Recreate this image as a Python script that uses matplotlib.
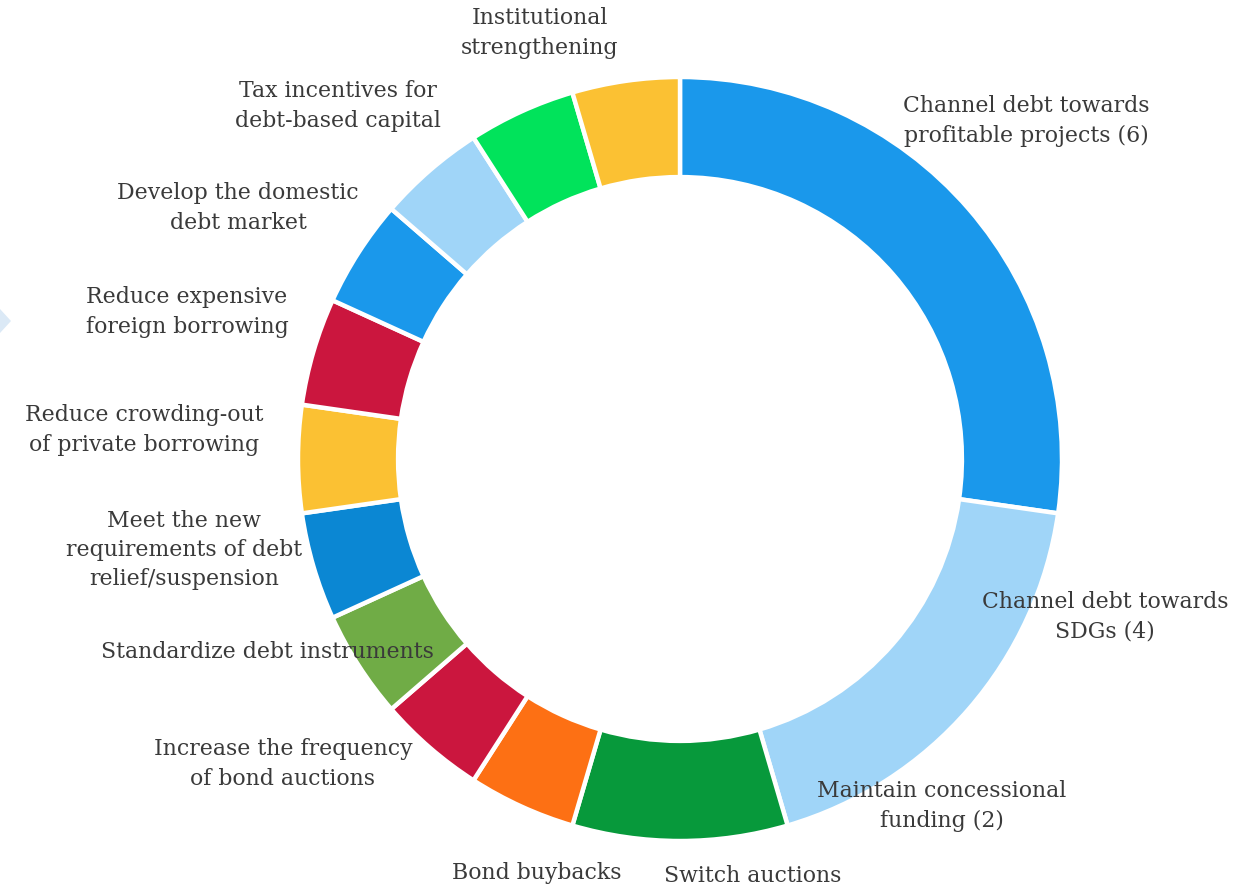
import matplotlib
matplotlib.use("Agg")
import matplotlib.pyplot as plt
from matplotlib.patches import Polygon

# Policy measures and how often each was cited
categories = [
    "Channel debt towards\nprofitable projects (6)",
    "Channel debt towards\nSDGs (4)",
    "Maintain concessional\nfunding (2)",
    "Switch auctions",
    "Bond buybacks",
    "Increase the frequency\nof bond auctions",
    "Standardize debt instruments",
    "Meet the new\nrequirements of debt\nrelief/suspension",
    "Reduce crowding-out\nof private borrowing",
    "Reduce expensive\nforeign borrowing",
    "Develop the domestic\ndebt market",
    "Tax incentives for\ndebt-based capital",
    "Institutional\nstrengthening",
]
counts = [6, 4, 2, 1, 1, 1, 1, 1, 1, 1, 1, 1, 1]

colors = [
    "#1a98eb", "#a0d5f8", "#07993b", "#fd7014", "#cb163e", "#70ac46",
    "#0b87d3", "#fbc133", "#cb163e", "#1a98eb", "#a0d5f8", "#01e35b", "#fbc133",
]

# Label anchor points (pixel space, y measured from the top)
label_xy = [
    (1026, 121), (1105, 617), (942, 806), (753, 876), (537, 873),
    (283, 764), (267, 652), (184, 550), (144, 430), (187, 312),
    (238, 208), (338, 106), (540, 33),
]

W, H = 1249, 890
fig = plt.figure(figsize=(W / 100, H / 100), dpi=100)
ax = fig.add_axes([0, 0, 1, 1])

cx, cy, r = 680, H - 459, 382
ax.pie(
    counts,
    colors=colors,
    startangle=90,
    counterclock=False,
    center=(cx, cy),
    radius=r,
    wedgeprops=dict(width=0.262 * r, edgecolor="white", linewidth=3.2),
    frame=True,
)
ax.set_xlim(0, W)
ax.set_ylim(0, H)
ax.set_aspect("equal")
ax.axis("off")

for text, (x, y) in zip(categories, label_xy):
    ax.text(x, H - y, text, ha="center", va="center", fontsize=15.8,
            family="DejaVu Serif", color="#3a3a3a", linespacing=1.42)

# small chevron at the left margin
ax.add_patch(Polygon([(0, H - 309), (11, H - 321), (0, H - 333)],
                     closed=True, facecolor="#dbe9f6", edgecolor="none"))

fig.savefig("out.png", dpi=100)
